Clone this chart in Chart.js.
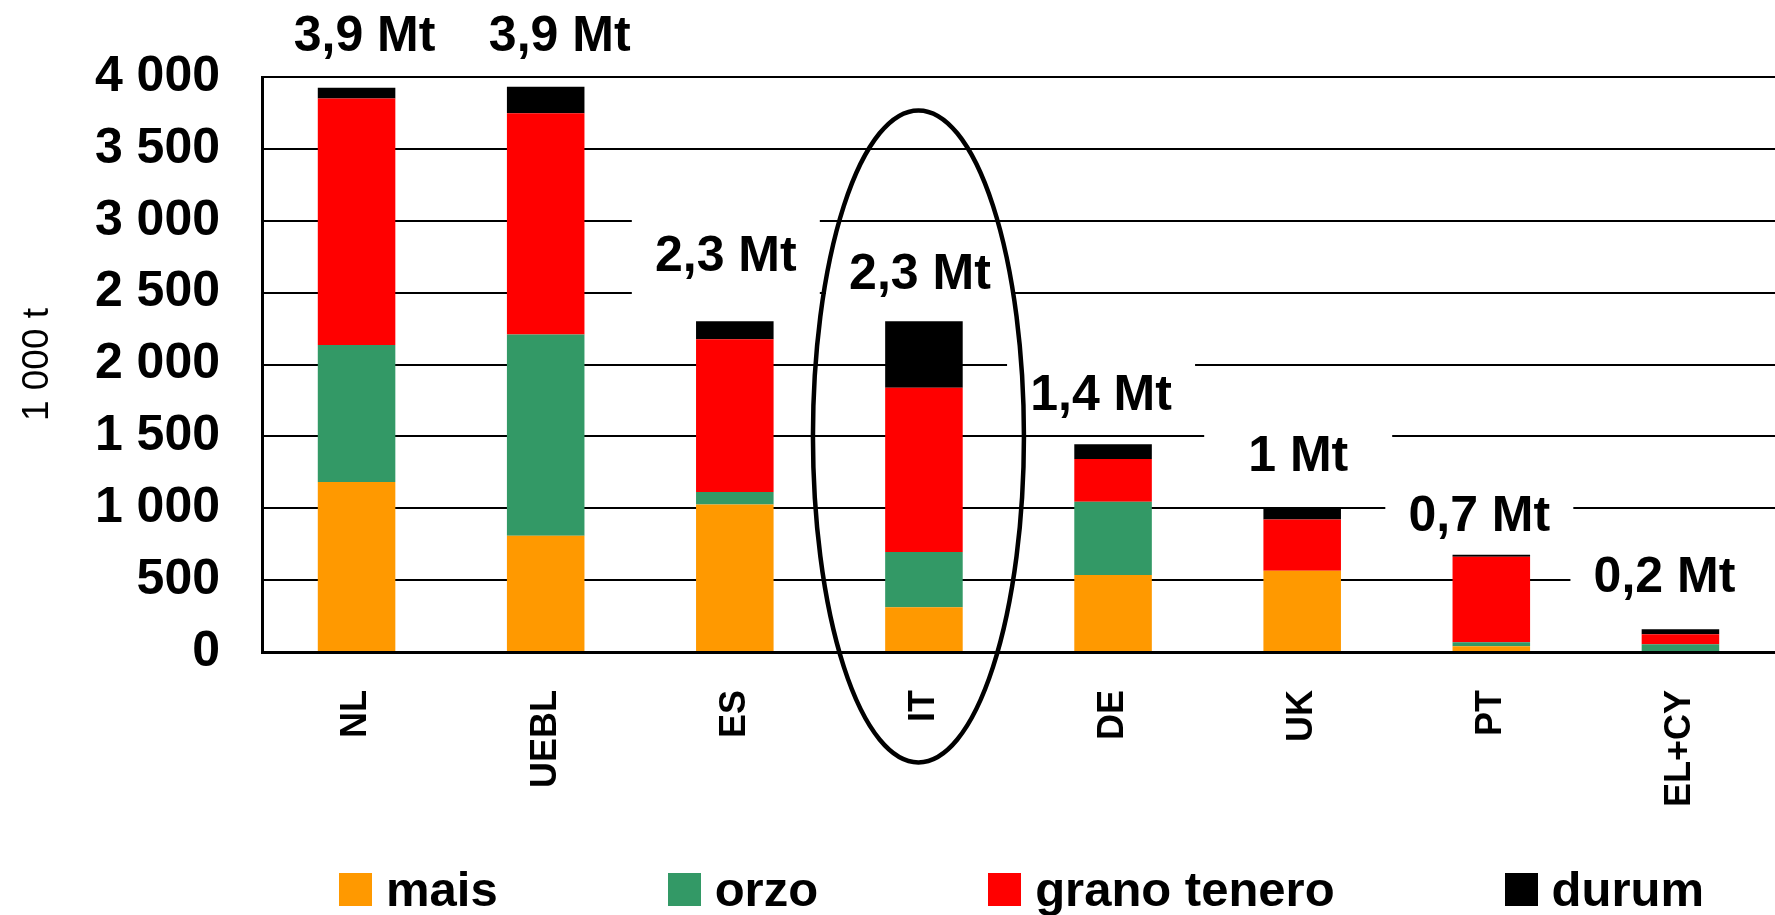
<!DOCTYPE html>
<html>
<head>
<meta charset="utf-8">
<script src="https://cdn.jsdelivr.net/npm/chart.js@4.4.1/dist/chart.umd.min.js"></script>
<style>
  html, body { margin: 0; padding: 0; background: #fff; }
  #wrap { position: relative; width: 1775px; height: 915px; }
  #legend {
    position: absolute; left: 339px; top: 873px;
    display: flex; align-items: center;
    font: bold 49px 'Liberation Sans', Arial, sans-serif; line-height: 33px; color: #000;
  }
  .item { display: flex; align-items: center; margin-right: 170px; }
  .item:last-child { margin-right: 0; }
  .swatch { width: 33px; height: 33px; margin-right: 14px; }
</style>
</head>
<body>
<div id="wrap">
  <canvas id="cerealChart" width="1775" height="915"></canvas>
  <div id="legend"></div>
</div>
<script>
// Data (1000 t)
const countries = ['NL', 'UEBL', 'ES', 'IT', 'DE', 'UK', 'PT', 'EL+CY'];
const mais = [1182, 808, 1026, 311, 535, 565, 40, 0];
const orzo = [954, 1400, 87, 385, 510, 0, 28, 54];
const granoTenero = [1714, 1539, 1063, 1142, 298, 357, 595, 70];
const durum = [76, 186, 125, 463, 103, 79, 14, 35];
const yTicks = [0, 500, 1000, 1500, 2000, 2500, 3000, 3500, 4000];

// where each total label sits (in 1000 t) and a small sideways nudge (px)
const labelLevel = [4280, 4280, 2743, 2620, 1782, 1357, 940, 515];
const labelNudge = [8, 14, -9, -4, -12, -4, -12, -16];

const totals = countries.map((c, i) => mais[i] + orzo[i] + granoTenero[i] + durum[i]);

// 3927 -> "3,9 Mt", 1001 -> "1 Mt"
function mtLabel(v) {
    let s = (v / 1000).toFixed(1).replace('.', ',');
    if (s.endsWith(',0')) s = s.slice(0, -2);
    return s + ' Mt';
}

function spaced(v) {
    return String(v).replace(/\B(?=(\d{3})+(?!\d))/g, ' ');
}

Chart.defaults.font.family = "'Liberation Sans', Arial, sans-serif";
Chart.defaults.color = '#000';

// total labels on white boxes + the ellipse around IT
const totalsPlugin = {
    id: 'totals',
    beforeDatasetsDraw(chart) {
        const { ctx, scales: { x, y } } = chart;
        ctx.save();
        ctx.fillStyle = '#fff';
        countries.forEach((c, i) => {
            const cx = x.getPixelForValue(i) + labelNudge[i];
            const cy = y.getPixelForValue(labelLevel[i]);
            let left = cx - 94, right = cx + 94;
            // last box runs to the edge of the picture
            if (i === countries.length - 1) right = chart.width + 10;
            ctx.fillRect(left, cy - 38, right - left, 76);
        });
        ctx.restore();
    },
    afterDatasetsDraw(chart) {
        const { ctx, scales: { x, y } } = chart;
        ctx.save();
        ctx.font = "bold 50px 'Liberation Sans', Arial, sans-serif";
        ctx.fillStyle = '#000';
        ctx.textAlign = 'center';
        ctx.textBaseline = 'middle';
        countries.forEach((c, i) => {
            const cx = x.getPixelForValue(i) + labelNudge[i];
            const cy = y.getPixelForValue(labelLevel[i]);
            ctx.fillText(mtLabel(totals[i]), cx, cy);
        });

        // ellipse around Italy
        const it = countries.indexOf('IT');
        ctx.beginPath();
        ctx.ellipse(x.getPixelForValue(it) - 5.5, y.getPixelForValue(1500), 105.5, 326, 0, 0, Math.PI * 2);
        ctx.lineWidth = 4.5;
        ctx.strokeStyle = '#000';
        ctx.stroke();
        ctx.restore();
    }
};

const ctx = document.getElementById('cerealChart').getContext('2d');
const chart = new Chart(ctx, {
    type: 'bar',
    data: {
        labels: countries,
        datasets: [
            { label: 'mais', data: mais, backgroundColor: '#ff9900' },
            { label: 'orzo', data: orzo, backgroundColor: '#339966' },
            { label: 'grano tenero', data: granoTenero, backgroundColor: '#ff0000' },
            { label: 'durum', data: durum, backgroundColor: '#000000' }
        ]
    },
    options: {
        responsive: false,
        animation: false,
        datasets: {
            bar: { barPercentage: 0.41, categoryPercentage: 1.0, borderWidth: 0 }
        },
        layout: { padding: { top: 77, right: -7, bottom: 0, left: 0 } },
        scales: {
            x: {
                stacked: true,
                grid: { display: false },
                border: { display: true, color: '#000', width: 3 },
                ticks: {
                    autoSkip: false,
                    minRotation: 90,
                    maxRotation: 90,
                    padding: 30,
                    font: { size: 36, weight: 'bold' }
                },
                afterFit: s => { s.height = 263; }
            },
            y: {
                stacked: true,
                min: 0,
                max: 4000,
                afterBuildTicks: s => { s.ticks = yTicks.map(v => ({ value: v })); },
                grid: { color: '#000', lineWidth: 2, drawTicks: false },
                border: { display: true, color: '#000', width: 3 },
                ticks: {
                    autoSkip: false,
                    padding: 42,
                    font: { size: 50, weight: 'bold' },
                    callback: v => spaced(v)
                },
                title: {
                    display: true,
                    text: '1 000 t',
                    font: { size: 37, weight: 'normal' },
                    padding: { top: 16, bottom: 0 }
                },
                afterFit: s => { s.width = 262; }
            }
        },
        plugins: {
            legend: { display: false },
            tooltip: { enabled: false }
        }
    },
    plugins: [totalsPlugin]
});

// legend below the chart, built from the datasets
const legendBox = document.getElementById('legend');
chart.data.datasets.forEach(ds => {
    const item = document.createElement('div');
    item.className = 'item';
    const sw = document.createElement('span');
    sw.className = 'swatch';
    sw.style.background = ds.backgroundColor;
    const txt = document.createElement('span');
    txt.textContent = ds.label;
    item.appendChild(sw);
    item.appendChild(txt);
    legendBox.appendChild(item);
});
</script>
</body>
</html>
